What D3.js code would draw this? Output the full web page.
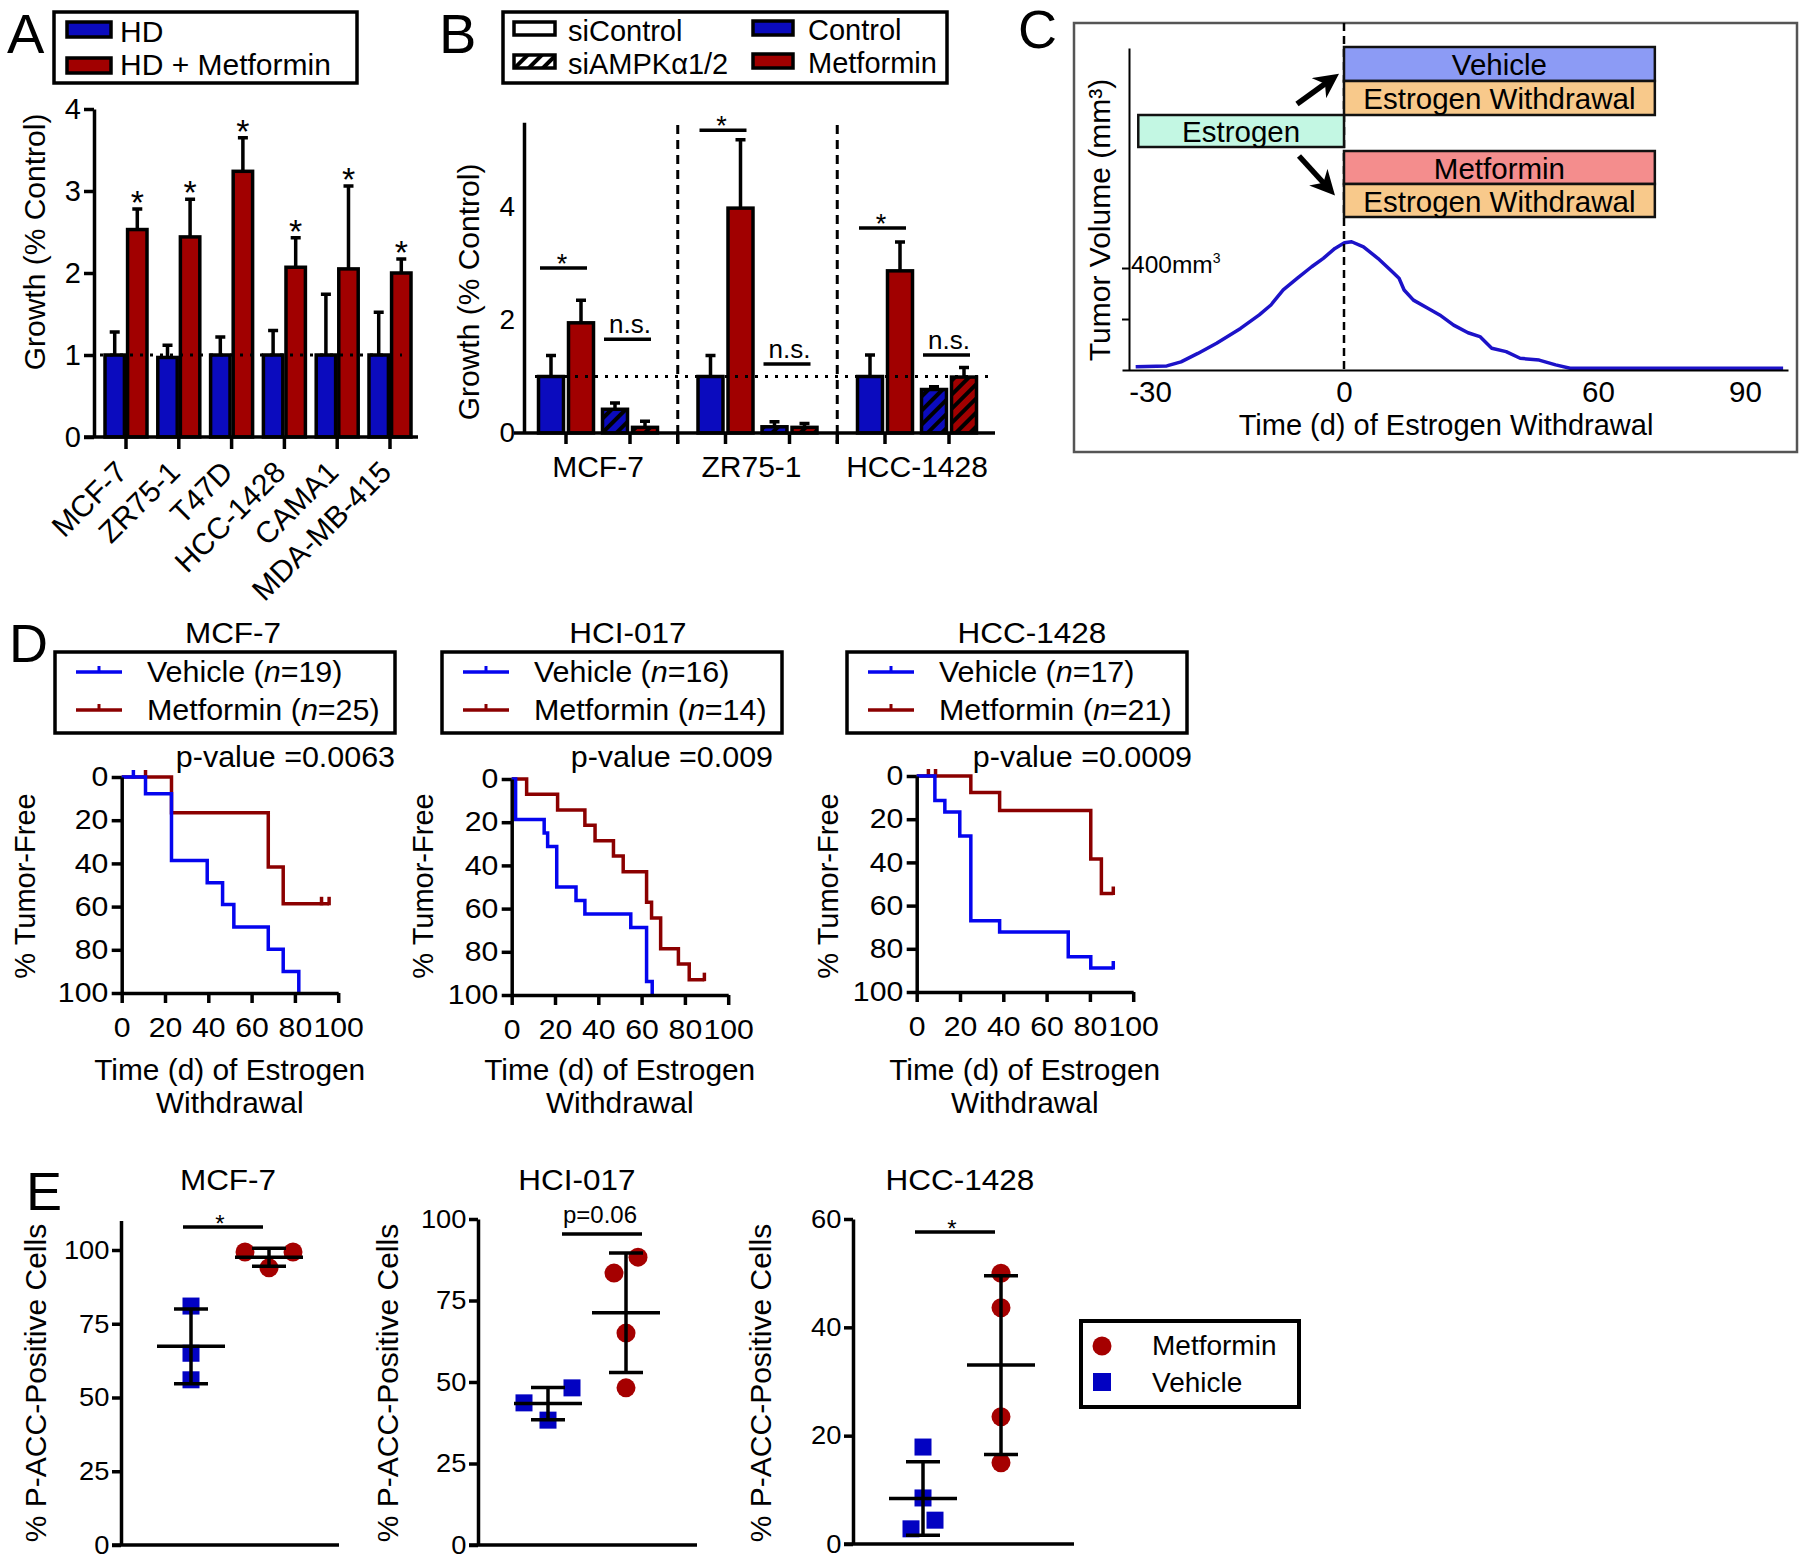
<!DOCTYPE html>
<html>
<head>
<meta charset="utf-8">
<script src="https://cdn.jsdelivr.net/npm/d3@7/dist/d3.min.js"></script>
<style>
html,body{margin:0;padding:0;background:#fff;}
svg{display:block;}
text{font-family:"Liberation Sans",Arial,Helvetica,sans-serif;}
</style>
</head>
<body>
<svg id="fig" width="1800" height="1563" xmlns="http://www.w3.org/2000/svg"></svg>
<script>
// ================= DATA =================
// Panel A
const aCells = ["MCF-7","ZR75-1","T47D","HCC-1428","CAMA1","MDA-MB-415"];
const aGroups = ["HD","HD + Metformin"];
const aHD     = [1.00,0.97,1.00,1.00,1.00,1.00];
const aHDErr  = [0.28,0.15,0.22,0.30,0.74,0.52];
const aMet    = [2.53,2.44,3.24,2.07,2.05,2.00];
const aMetErr = [0.25,0.46,0.41,0.36,1.01,0.17];
const aYTicks = [0,1,2,3,4];

// Panel B
const bCells = ["MCF-7","ZR75-1","HCC-1428"];
const bSi = ["siControl","siAMPKα1/2"];
const bTreat = ["Control","Metformin"];
const bCtrl    = [[1.00,0.42],[1.00,0.11],[1.00,0.77]];
const bCtrlErr = [[0.37,0.11],[0.37,0.09],[0.38,0.05]];
const bMet     = [[1.95,0.10],[3.98,0.10],[2.87,0.99]];
const bMetErr  = [[0.40,0.11],[1.21,0.07],[0.51,0.17]];
const bSigLevel = [[2.92,1.66],[5.36,1.22],[3.63,1.38]];
const bSigLabel = [["*","n.s."],["*","n.s."],["*","n.s."]];
const bYTicks = [0,2,4];

// Panel C (schematic tumour volume curve)
const cTime = [-32.2,-27.4,-25.2,-22.6,-19.7,-16.0,-13.1,-11.3,-9.4,-7.2,-5.0,-3.2,-1.4,0.1,1.8,4.6,8.0,11.4,13.0,14.2,16.4,19.8,22.6,25.9,29.3,32.1,34.9,38.3,41.6,46.1,50.0,53.4,97.8];
const cVol  = [13,16,32,65,105,163,216,255,314,360,405,438,477,499,503,483,438,385,360,314,274,242,216,176,146,131,85,72,46,39,20,7,7];
const cXTicks = [-30,0,60,90];
const cYTicks = [200,400];
const cPhases = ["Vehicle","Estrogen Withdrawal","Estrogen","Metformin","Estrogen Withdrawal"];
const cPhaseStart = [0,0,-31.8,0,0];
const cPhaseEnd = [71.6,71.6,0,71.6,71.6];

// Panel D (Kaplan-Meier, % with tumour)
const dModels = ["MCF-7","HCI-017","HCC-1428"];
const dVehN = [19,16,17];
const dMetN = [25,14,21];
const dPValue = ["0.0063","0.009","0.0009"];
const dVehTime  = [[11,23,39.5,46.6,51.8,67.7,74.6,81.8],[1.8,15,16.6,20.8,29.7,33.8,55,62.3,64.9],[8.4,13,19.9,25,38.3,70,80.4]];
const dVehLevel = [[7.7,38.6,49,59,69.5,79.7,90,100],[18.8,25,31.3,50,56.3,62.5,68.8,93.8,100],[11.4,16.7,27.8,67,72.2,83.7,88.9]];
const dVehEnd   = [81.8,64.9,90.8];
const dVehCens  = [[5.4],[],[90.8]];
const dMetTime  = [[23,67.7,74.6],[6.9,21.2,33.8,38.5,47,51.5,62.3,64.6,68.8,77,82],[25,38.3,80.4,85.3]];
const dMetLevel = [[16.5,41.7,58.7],[7.1,14.3,21.4,28.6,35.7,42.9,57.1,64.3,78.6,85.7,92.9],[7.6,16,38.4,54.4]];
const dMetEnd   = [95.8,89,90.8];
const dMetCens  = [[11,92.3,95.8],[89],[5.4,8.7,90.8]];
const dTicks = [0,20,40,60,80,100];

// Panel E (% P-ACC-positive cells)
const eModels = ["MCF-7","HCI-017","HCC-1428"];
const eGroups = ["Vehicle","Metformin"];
const eVeh = [[81,65,56],[38.3,48.2,43.6],[17.9,8.5,4.4,2.8]];
const eMet = [[99.3,99.3,94],[83.4,88.3,65,48.2],[50,43.6,23.5,15]];
const eYMax = [110,100,60];
const eYTicks = [[0,25,50,75,100],[0,25,50,75,100],[0,20,40,60]];
const eSigLevel = [107.8,95.4,57.6];
const eSigLabel = ["*","p=0.06","*"];

// ================= DRAWING =================
const BLUE='#0b0bbe', RED='#a10000';
const KM_BLUE='#0505ee', KM_RED='#8b0000';
const E_BLUE='#0202c2', E_RED='#a50000';
const svg=d3.select('#fig');
const defs=svg.append('defs');
const fmt=d=>String(d);

function txt(g,x,y,s,o={}){
  const size=o.size||26, sx=(o.sx==null?1:o.sx), rot=o.rot||0;
  let tr=`translate(${x},${y})`;
  if(rot) tr+=` rotate(${rot})`;
  if(sx!==1) tr+=(rot===-90)?` scale(1,${sx})`:` scale(${sx},1)`;
  const t=g.append('text').attr('transform',tr).attr('font-size',size)
    .attr('text-anchor',o.anchor||'start').attr('fill',o.fill||'#000');
  if(Array.isArray(s)) s.forEach(p=>t.append('tspan').attr('font-style',p.i?'italic':null).text(p.t));
  else t.text(s);
  return t;
}
function styleAxis(sel,size,sx,sw){
  sel.attr('font-family',null).attr('font-size',null);
  sel.select('.domain').attr('stroke','#000').attr('stroke-width',sw);
  sel.selectAll('.tick line').attr('stroke','#000').attr('stroke-width',sw);
  sel.selectAll('.tick text').attr('fill','#000').attr('font-size',size)
    .attr('transform',sx!==1?`scale(${sx},1)`:null);
}
function seg(g,x1,y1,x2,y2,w,col,dash){
  const l=g.append('line').attr('x1',x1).attr('y1',y1).attr('x2',x2).attr('y2',y2)
    .attr('stroke',col||'#000').attr('stroke-width',w);
  if(dash) l.attr('stroke-dasharray',dash);
  return l;
}

// panel letters
txt(svg,7,53,'A',{size:56});
txt(svg,439,53,'B',{size:56});
txt(svg,1018,48,'C',{size:54});
txt(svg,9,662,'D',{size:54});
txt(svg,26,1210,'E',{size:54});

// ---------- Panel A ----------
(function(){
  const g=svg.append('g');
  const x=d3.scaleBand().domain(aCells).range([99.6,416.4]);
  const xi=d3.scaleBand().domain(aGroups).range([-21,21]).paddingInner(0.14);
  const y=d3.scaleLinear().domain([0,4]).range([437,109]);
  const rows=aCells.flatMap((c,i)=>[
    {c,grp:aGroups[0],v:aHD[i],e:aHDErr[i],star:false},
    {c,grp:aGroups[1],v:aMet[i],e:aMetErr[i],star:true}]);
  const left=r=>x(r.c)+x.bandwidth()/2+xi(r.grp);
  const cx=r=>left(r)+xi.bandwidth()/2;
  g.selectAll('path.eb').data(rows).join('path').attr('class','eb')
    .attr('d',r=>{const c=cx(r),t=y(r.v+r.e);return `M${c},${y(r.v)}V${t}M${c-5},${t}H${c+5}`;})
    .attr('stroke','#000').attr('stroke-width',3.5).attr('fill','none');
  g.selectAll('rect.bar').data(rows).join('rect').attr('class','bar')
    .attr('x',left).attr('width',xi.bandwidth())
    .attr('y',r=>y(r.v)).attr('height',r=>y(0)-y(r.v))
    .attr('fill',r=>r.grp===aGroups[0]?BLUE:RED).attr('stroke','#000').attr('stroke-width',3.5);
  rows.filter(r=>r.star).forEach(r=>txt(g,cx(r),y(r.v+r.e)+5,'*',{size:34,anchor:'middle'}));
  seg(g,100,y(1),402,y(1),3,'#000','3,7');
  const ay=g.append('g').attr('transform','translate(94,0)')
    .call(d3.axisLeft(y).tickValues(aYTicks).tickSize(10).tickPadding(3).tickSizeOuter(0).tickFormat(fmt));
  styleAxis(ay,29,1,3.5);
  seg(g,84,437,418,437,3.5);
  g.append('g').attr('transform','translate(0,437)')
    .call(d3.axisBottom(x).tickSize(12).tickFormat(''))
    .call(s=>{s.select('.domain').remove();s.selectAll('.tick line').attr('stroke','#000').attr('stroke-width',3.5);});
  aCells.forEach(c=>txt(g,x(c)+x.bandwidth()/2+3,474,c,{size:30,anchor:'end',rot:-45}));
  txt(g,45,242,'Growth (% Control)',{size:30,rot:-90,anchor:'middle'});
  g.append('rect').attr('x',54).attr('y',12).attr('width',303).attr('height',71)
    .attr('fill','none').attr('stroke','#000').attr('stroke-width',3.5);
  g.append('rect').attr('x',67).attr('y',22).attr('width',44).attr('height',15).attr('fill',BLUE).attr('stroke','#000').attr('stroke-width',3.5);
  g.append('rect').attr('x',67).attr('y',58).attr('width',44).attr('height',15).attr('fill',RED).attr('stroke','#000').attr('stroke-width',3.5);
  txt(g,120,42,aGroups[0],{size:30});
  txt(g,120,75,aGroups[1],{size:30});
})();

// ---------- Panel B ----------
(function(){
  const g=svg.append('g');
  [['h0',BLUE],['h1',RED],['hw','#fff']].forEach(([id,fill])=>{
    const p=defs.append('pattern').attr('id',id).attr('patternUnits','userSpaceOnUse')
      .attr('width',10).attr('height',10).attr('patternTransform','rotate(45)');
    p.append('rect').attr('width',10).attr('height',10).attr('fill',fill);
    p.append('line').attr('x1',2).attr('y1',0).attr('x2',2).attr('y2',10).attr('stroke','#000').attr('stroke-width',4);
  });
  const x=d3.scaleBand().domain(bCells).range([518.25,996.75]);
  const xs=d3.scaleBand().domain(bSi).range([15.75,143.75]);
  const xt=d3.scaleBand().domain(bTreat).range([-27.5,27.5]).paddingInner(0.167);
  const y=d3.scaleLinear().domain([0,5.5]).range([433,122.25]);
  const pc=(i,j)=>x(bCells[i])+xs(bSi[j])+xs.bandwidth()/2;
  const rows=[];
  bCells.forEach((c,i)=>bSi.forEach((s,j)=>{
    rows.push({i,j,k:0,v:bCtrl[i][j],e:bCtrlErr[i][j]});
    rows.push({i,j,k:1,v:bMet[i][j],e:bMetErr[i][j]});
  }));
  const left=r=>pc(r.i,r.j)+xt(bTreat[r.k]);
  const cx=r=>left(r)+xt.bandwidth()/2;
  g.selectAll('path.eb').data(rows).join('path').attr('class','eb')
    .attr('d',r=>{const c=cx(r),t=y(r.v+r.e);return `M${c},${y(r.v)}V${t}M${c-5},${t}H${c+5}`;})
    .attr('stroke','#000').attr('stroke-width',3.5).attr('fill','none');
  g.selectAll('rect.bar').data(rows).join('rect').attr('class','bar')
    .attr('x',left).attr('width',xt.bandwidth())
    .attr('y',r=>y(r.v)).attr('height',r=>y(0)-y(r.v))
    .attr('fill',r=>r.j===0?(r.k===0?BLUE:RED):`url(#h${r.k})`)
    .attr('stroke','#000').attr('stroke-width',3.5);
  seg(g,535,y(1),989,y(1),3,'#000','3,7');
  [1,2].forEach(i=>seg(g,x(bCells[i]),125,x(bCells[i]),443,3,'#000','9,6'));
  const ay=g.append('g').attr('transform','translate(524,0)')
    .call(d3.axisLeft(y).tickValues(bYTicks).tickSize(0).tickPadding(9).tickSizeOuter(0).tickFormat(fmt));
  styleAxis(ay,28,1,3.5);
  seg(g,514,433,995,433,3.5);
  const tk=[];
  bCells.forEach((c,i)=>{bSi.forEach((s,j)=>tk.push(pc(i,j))); if(i>0) tk.push(x(c));});
  tk.forEach(t=>seg(g,t,433,t,444,3.5));
  bCells.forEach((c,i)=>txt(g,x(c)+x.bandwidth()/2-(i===1?6:0),477,c,{size:30,anchor:'middle'}));
  bCells.forEach((c,i)=>bSi.forEach((s,j)=>{
    const p=pc(i,j), ly=y(bSigLevel[i][j]), lab=bSigLabel[i][j];
    seg(g,p-26,ly,p+21,ly,3.5);
    if(lab==='*') txt(g,p-4,ly+5,lab,{size:27,anchor:'middle'});
    else txt(g,p,ly-6,lab,{size:26,anchor:'middle'});
  }));
  txt(g,479,292,'Growth (% Control)',{size:30,rot:-90,anchor:'middle'});
  g.append('rect').attr('x',503).attr('y',12).attr('width',444).attr('height',71)
    .attr('fill','none').attr('stroke','#000').attr('stroke-width',3.5);
  g.append('rect').attr('x',514).attr('y',22).attr('width',41).attr('height',13).attr('fill','#fff').attr('stroke','#000').attr('stroke-width',3.5);
  g.append('rect').attr('x',514).attr('y',55).attr('width',41).attr('height',13).attr('fill','url(#hw)').attr('stroke','#000').attr('stroke-width',3.5);
  g.append('rect').attr('x',753).attr('y',21).attr('width',40).attr('height',14).attr('fill',BLUE).attr('stroke','#000').attr('stroke-width',3.5);
  g.append('rect').attr('x',753).attr('y',54).attr('width',40).attr('height',14).attr('fill',RED).attr('stroke','#000').attr('stroke-width',3.5);
  txt(g,568,41,bSi[0],{size:29});
  txt(g,568,74,bSi[1],{size:29});
  txt(g,808,40,bTreat[0],{size:29});
  txt(g,808,73,bTreat[1],{size:29});
})();

// ---------- Panel C ----------
(function(){
  const g=svg.append('g');
  g.append('rect').attr('x',1074).attr('y',23).attr('width',723).attr('height',429)
    .attr('fill','none').attr('stroke','#555').attr('stroke-width',2.5);
  const x=d3.scaleLinear().domain([-34.3,-30,0,60,90,98.8]).range([1122,1150,1344,1598,1745,1788]);
  const y=d3.scaleLinear().domain([0,1263]).range([370,48]);
  g.append('path').datum(cTime.map((t,i)=>[t,cVol[i]]))
    .attr('d',d3.line().x(d=>x(d[0])).y(d=>y(d[1])))
    .attr('fill','none').attr('stroke','#1c12c8').attr('stroke-width',3.5).attr('stroke-linejoin','round');
  const ay=g.append('g').attr('transform','translate(1129,0)')
    .call(d3.axisLeft(y).tickValues(cYTicks).tickSize(7).tickFormat('').tickSizeOuter(0));
  styleAxis(ay,20,1,2);
  const ax=g.append('g').attr('transform','translate(0,370)')
    .call(d3.axisBottom(x).tickValues(cXTicks).tickSize(0).tickPadding(11).tickFormat(fmt).tickSizeOuter(0));
  styleAxis(ax,29.5,1,2);
  const t4=txt(g,1131,273,'400mm',{size:24.5});
  t4.append('tspan').attr('font-size',14).attr('dy',-10).text('3');
  txt(g,1110,220,'Tumor Volume (mm³)',{size:30,rot:-90,anchor:'middle'});
  txt(g,1446,435,'Time (d) of Estrogen Withdrawal',{size:29,anchor:'middle'});
  seg(g,x(0),23,x(0),370,2.5,'#000','8,5');
  const rowTop=[47,81,115,151,184], rowH=[34,34,32,33,33];
  const fills=['#8c9bf5','#f8c98b','#c3f7e3','#f48d8d','#f8c98b'];
  cPhases.forEach((p,i)=>{
    const x0=x(cPhaseStart[i]), x1=x(cPhaseEnd[i]);
    g.append('rect').attr('x',x0).attr('y',rowTop[i]).attr('width',x1-x0).attr('height',rowH[i])
      .attr('fill',fills[i]).attr('stroke','#111').attr('stroke-width',2.5);
    txt(g,(x0+x1)/2,rowTop[i]+rowH[i]/2+11,p,{size:29.5,anchor:'middle'});
  });
  defs.append('marker').attr('id','arr').attr('viewBox','0 0 10 10').attr('refX',7).attr('refY',5)
    .attr('markerWidth',4.5).attr('markerHeight',4.5).attr('orient','auto')
    .append('path').attr('d','M0,0 L10,5 L0,10 L3,5 z').attr('fill','#000');
  g.append('line').attr('x1',1297).attr('y1',104).attr('x2',1333).attr('y2',78)
    .attr('stroke','#000').attr('stroke-width',5.5).attr('marker-end','url(#arr)');
  g.append('line').attr('x1',1299).attr('y1',156).attr('x2',1330).attr('y2',190)
    .attr('stroke','#000').attr('stroke-width',5.5).attr('marker-end','url(#arr)');
})();

// ---------- Panel D ----------
const dLayout=[
  {ax:121.7,top:777,box:55, title:233, pEnd:395, ylab:35},
  {ax:511.7,top:779,box:442,title:628, pEnd:773, ylab:433},
  {ax:916.7,top:776,box:847,title:1032,pEnd:1192,ylab:838}];
dModels.forEach((m,i)=>{
  const L=dLayout[i], g=svg.append('g');
  const x=d3.scaleLinear().domain([0,100]).range([L.ax,L.ax+216.5]);
  const y=d3.scaleLinear().domain([0,100]).range([L.top,L.top+216]);
  const line=d3.line().x(d=>x(d[0])).y(d=>y(d[1])).curve(d3.curveStepAfter);
  const series=[
    {col:KM_RED,t:dMetTime[i],l:dMetLevel[i],end:dMetEnd[i],c:dMetCens[i]},
    {col:KM_BLUE,t:dVehTime[i],l:dVehLevel[i],end:dVehEnd[i],c:dVehCens[i]}];
  series.forEach(s=>{
    const pts=[[0,0]].concat(s.t.map((t,j)=>[t,s.l[j]]));
    pts.push([s.end,s.l[s.l.length-1]]);
    g.append('path').attr('d',line(pts)).attr('fill','none').attr('stroke',s.col).attr('stroke-width',3.5);
    s.c.forEach(ct=>{
      let lv=0; s.t.forEach((t,j)=>{if(t<=ct) lv=s.l[j];});
      seg(g,x(ct),y(lv)+1.5,x(ct),y(lv)-7,3.5,s.col);
    });
  });
  const ax=g.append('g').attr('transform',`translate(0,${y(100)})`)
    .call(d3.axisBottom(x).tickValues(dTicks).tickSize(10).tickPadding(15).tickSizeOuter(0).tickFormat(fmt));
  styleAxis(ax,27,1.12,3.5);
  const ay=g.append('g').attr('transform',`translate(${L.ax},0)`)
    .call(d3.axisLeft(y).tickValues(dTicks).tickSize(10).tickPadding(2).tickSizeOuter(0).tickFormat(fmt));
  styleAxis(ay,27,1.12,3.5);
  txt(g,L.title,643,m,{size:30,anchor:'middle',sx:1.05});
  g.append('rect').attr('x',L.box).attr('y',652).attr('width',340).attr('height',81)
    .attr('fill','none').attr('stroke','#000').attr('stroke-width',3.5);
  [[KM_BLUE,672,682,[{t:'Vehicle ('},{t:'n',i:true},{t:'='+dVehN[i]+')'}]],
   [KM_RED,710,720,[{t:'Metformin ('},{t:'n',i:true},{t:'='+dMetN[i]+')'}]]].forEach(([col,ly,ty,parts])=>{
    seg(g,L.box+21,ly,L.box+67,ly,3.5,col);
    seg(g,L.box+44,ly,L.box+44,ly-6,3,col);
    txt(g,L.box+92,ty,parts,{size:29,sx:1.05});
  });
  txt(g,L.pEnd,767,'p-value ='+dPValue[i],{size:29,anchor:'end',sx:1.05});
  txt(g,L.ylab,886,'% Tumor-Free',{size:29,rot:-90,anchor:'middle'});
  txt(g,L.ax+108,1080,'Time (d) of Estrogen',{size:29,anchor:'middle',sx:1.03});
  txt(g,L.ax+108,1113,'Withdrawal',{size:29,anchor:'middle',sx:1.03});
});

// ---------- Panel E ----------
function swarm(vals,y,s,d){
  const idx=vals.map((v,i)=>i).sort((a,b)=>vals[a]-vals[b]);
  const off=new Array(vals.length).fill(0);
  let cl=[idx[0]];
  const flush=()=>{
    const k=cl.length;
    if(k===1) off[cl[0]]=0;
    else if(k%2===0) cl.forEach((p,j)=>off[p]=(j-(k-1)/2)*d);
    else { const pos=[0]; for(let q=1;pos.length<k;q++){pos.push(-q*d,q*d);} cl.forEach((p,j)=>off[p]=pos[j]); }
  };
  for(let n=1;n<idx.length;n++){
    const a=idx[n-1], b=idx[n];
    if(Math.abs(y(vals[b])-y(vals[a]))<s) cl.push(b); else {flush(); cl=[b];}
  }
  flush();
  return off;
}
const eLayout=[
  {ax:121,y0:1545,y1:1220.5,xEnd:339, title:228,ylab:46},
  {ax:478,y0:1545,y1:1219,  xEnd:697, title:577,ylab:398},
  {ax:853,y0:1544,y1:1219,  xEnd:1074,title:960,ylab:771}];
eModels.forEach((m,i)=>{
  const L=eLayout[i], g=svg.append('g');
  const y=d3.scaleLinear().domain([0,eYMax[i]]).range([L.y0,L.y1]);
  const x=d3.scalePoint().domain(eGroups).range([L.ax+70,L.ax+148]);
  const sets=[{grp:eGroups[0],vals:eVeh[i],col:E_BLUE,sq:true},{grp:eGroups[1],vals:eMet[i],col:E_RED,sq:false}];
  sets.forEach(s=>{
    const off=swarm(s.vals,y,18,24);
    s.vals.forEach((v,j)=>{
      const cx=x(s.grp)+off[j], cy=y(v);
      if(s.sq) g.append('rect').attr('x',cx-8.5).attr('y',cy-8.5).attr('width',17).attr('height',17).attr('fill',s.col);
      else g.append('circle').attr('cx',cx).attr('cy',cy).attr('r',9.5).attr('fill',s.col);
    });
  });
  sets.forEach(s=>{
    const mu=d3.mean(s.vals), sd=d3.deviation(s.vals), cx=x(s.grp);
    seg(g,cx-34,y(mu),cx+34,y(mu),3.5);
    seg(g,cx,y(mu-sd),cx,y(mu+sd),3.5);
    seg(g,cx-17,y(mu-sd),cx+17,y(mu-sd),3.5);
    seg(g,cx-17,y(mu+sd),cx+17,y(mu+sd),3.5);
  });
  const ay=g.append('g').attr('transform',`translate(${L.ax},0)`)
    .call(d3.axisLeft(y).tickValues(eYTicks[i]).tickSize(9).tickPadding(2).tickSizeOuter(0).tickFormat(fmt));
  styleAxis(ay,26,1.05,3.5);
  seg(g,L.ax-9,L.y0,L.xEnd,L.y0,3.5);
  const lab=eSigLabel[i], shift=lab.length>1?22:0;
  const x1=x(eGroups[0])-8+shift, x2=x(eGroups[1])-6+shift, ly=y(eSigLevel[i]);
  seg(g,x1,ly,x2,ly,3.5);
  if(lab==='*') txt(g,(x1+x2)/2-3,ly+5,lab,{size:24,anchor:'middle'});
  else txt(g,(x1+x2)/2-2,ly-11,lab,{size:24,anchor:'middle'});
  txt(g,L.title,1190,m,{size:30,anchor:'middle',sx:1.05});
  txt(g,L.ylab,1383,'% P-ACC-Positive Cells',{size:30,rot:-90,anchor:'middle'});
});
(function(){
  const g=svg.append('g');
  g.append('rect').attr('x',1081).attr('y',1321).attr('width',218).attr('height',86)
    .attr('fill','none').attr('stroke','#000').attr('stroke-width',4);
  g.append('circle').attr('cx',1102).attr('cy',1346).attr('r',9.5).attr('fill',E_RED);
  g.append('rect').attr('x',1093).attr('y',1373).attr('width',18).attr('height',18).attr('fill',E_BLUE);
  txt(g,1152,1355,eGroups[1],{size:28});
  txt(g,1152,1392,eGroups[0],{size:28});
})();
</script>
</body>
</html>
